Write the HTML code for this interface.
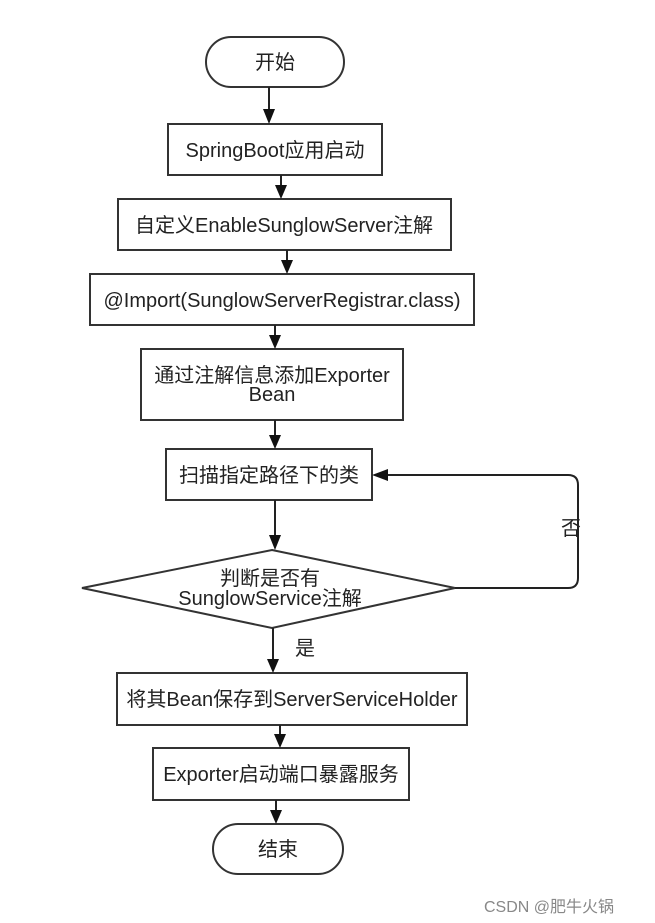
<!DOCTYPE html>
<html><head><meta charset="utf-8"><style>
html,body{margin:0;padding:0;background:#fff;}
svg{display:block;}
text{font-family:"Liberation Sans","Noto Sans CJK SC",sans-serif;font-size:20px;fill:#222;}
</style></head><body>
<svg width="655" height="923" viewBox="0 0 655 923" xmlns="http://www.w3.org/2000/svg">
<g fill="#fff" stroke="#333" stroke-width="2">
<rect x="206" y="37" width="138" height="50" rx="25"/>
<rect x="168" y="124" width="214" height="51"/>
<rect x="118" y="199" width="333" height="51"/>
<rect x="90" y="274" width="384" height="51"/>
<rect x="141" y="349" width="262" height="71"/>
<rect x="166" y="449" width="206" height="51"/>
<polygon points="272,550 455,588 272,628 82,588"/>
<rect x="117" y="673" width="350" height="52"/>
<rect x="153" y="748" width="256" height="52"/>
<rect x="213" y="824" width="130" height="50" rx="25"/>
</g>
<g stroke="#222" stroke-width="2" fill="none">
<line x1="269" y1="87" x2="269" y2="110"/>
<line x1="281" y1="175" x2="281" y2="186"/>
<line x1="287" y1="250" x2="287" y2="261"/>
<line x1="275" y1="325" x2="275" y2="336"/>
<line x1="275" y1="420" x2="275" y2="436"/>
<line x1="275" y1="500" x2="275" y2="536"/>
<line x1="273" y1="628" x2="273" y2="660"/>
<line x1="280" y1="725" x2="280" y2="735"/>
<line x1="276" y1="800" x2="276" y2="811"/>
<path d="M455,588 H568 Q578,588 578,578 V485 Q578,475 568,475 H388"/>
</g>
<g fill="#111">
<polygon points="263,109 275,109 269,124"/>
<polygon points="275,185 287,185 281,199"/>
<polygon points="281,260 293,260 287,274"/>
<polygon points="269,335 281,335 275,349"/>
<polygon points="269,435 281,435 275,449"/>
<polygon points="269,535 281,535 275,550"/>
<polygon points="267,659 279,659 273,673"/>
<polygon points="274,734 286,734 280,748"/>
<polygon points="270,810 282,810 276,824"/>
<polygon points="372,475 388,469 388,481"/>
</g>
<g text-anchor="middle">
<text x="275" y="69">开始</text>
<text x="275" y="157">SpringBoot应用启动</text>
<text x="284" y="232">自定义EnableSunglowServer注解</text>
<text x="282" y="307">@Import(SunglowServerRegistrar.class)</text>
<text x="272" y="382">通过注解信息添加Exporter</text>
<text x="272" y="401">Bean</text>
<text x="269" y="482">扫描指定路径下的类</text>
<text x="270" y="585">判断是否有</text>
<text x="270" y="605">SunglowService注解</text>
<text x="292" y="706">将其Bean保存到ServerServiceHolder</text>
<text x="281" y="781">Exporter启动端口暴露服务</text>
<text x="278" y="856">结束</text>
<text x="571" y="535">否</text>
<text x="305" y="655">是</text>
</g>
<text x="614" y="912" text-anchor="end" style="font-size:16px;fill:#888">CSDN @肥牛火锅</text>
</svg>
</body></html>
